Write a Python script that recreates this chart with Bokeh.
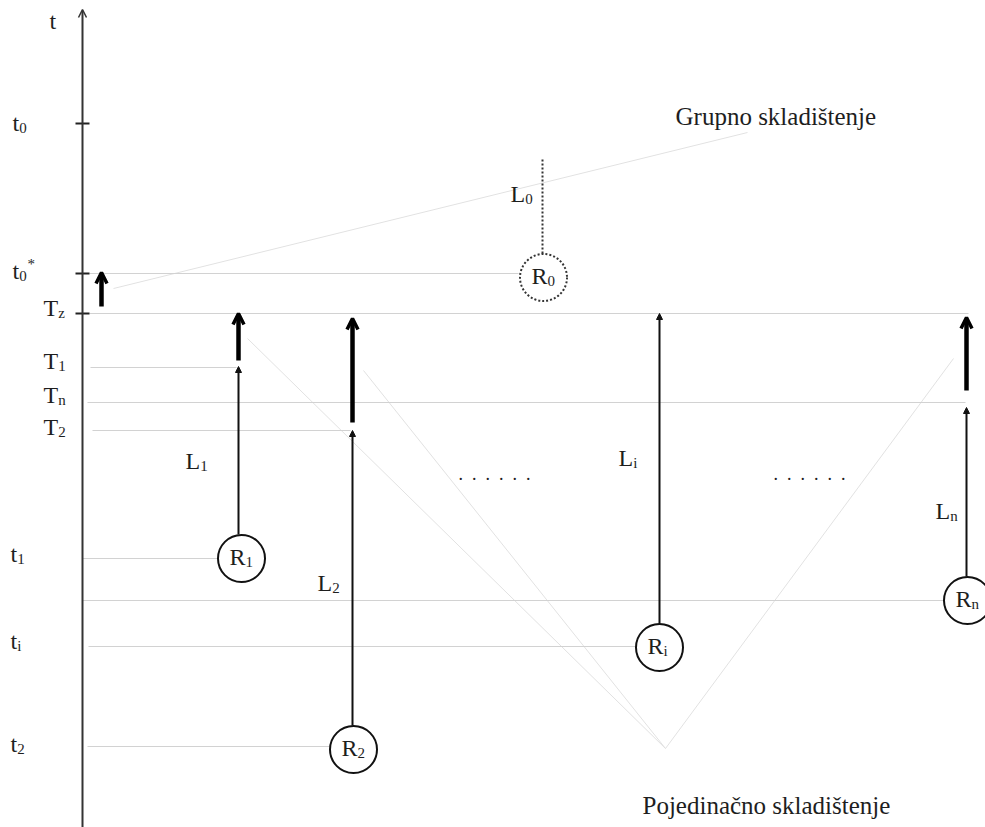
from bokeh.plotting import figure
from bokeh.models import Range1d, Arrow, OpenHead, NormalHead, ColumnDataSource
from bokeh.core.properties import value
from bokeh.embed import file_html
from bokeh.resources import INLINE

W, H = 985, 827
FONT = "Liberation Serif"
TXT = "#1e1e1e"

# ---- time levels on the t axis (screen-y units) ----
level_names = ["t0*", "Tz", "T1", "Tn", "T2", "t1", "tRn", "ti", "t2"]
level_y = [273, 313, 367, 402, 430, 558, 600, 646, 746]
level_x0 = [89, 89, 90, 87, 92, 82, 82, 88, 87]
level_x1 = [518, 968, 236, 965, 350, 217, 943, 635, 329]

tick_y = [123, 273, 313]

# ---- axis labels: base letter, subscript, superscript ----
axis_base = ["t", "t", "t", "T", "T", "T", "T", "t", "t", "t"]
axis_sub = ["", "0", "0", "z", "1", "n", "2", "1", "i", "2"]
axis_x = [49, 12, 12, 43, 43, 43, 43, 10, 10, 10]
axis_yc = [20, 122, 270, 307, 360, 394, 426, 553, 640, 743]

# ---- nodes (circles R) ----
node_sub = ["0", "1", "2", "i", "n"]
node_x = [543, 241, 353, 659, 967]
node_y = [277, 558, 749, 647, 600]
node_dotted = [True, False, False, False, False]

# ---- L labels ----
L_sub = ["0", "1", "2", "i", "n"]
L_x = [510, 185, 317, 618, 935]
L_yc = [193, 460, 582, 457, 510]

# ---- thin arrows (lead times) ----
thin_x = [238, 352, 659, 966]
thin_y0 = [534, 725, 623, 576]
thin_y1 = [366, 430, 313, 407]

# ---- thick arrows (waiting) ----
thick_x = [101, 238, 352, 966]
thick_y0 = [306, 360, 422, 390]
thick_y1 = [272, 313, 318, 317]

# ---- dotted L0 ----
L0_x, L0_y0, L0_y1 = 542, 253, 157

# ---- light diagonals ----
grp_x = [113, 747]
grp_y = [288, 132]
ind_x0 = [247, 363, 665]
ind_y0 = [338, 370, 748]
ind_x1 = [665, 665, 953]
ind_y1 = [748, 748, 358]

titles = ["Grupno skladištenje", "Pojedinačno skladištenje"]
title_x = [675, 642]
title_y = [116, 805]

dots_x = [458, 773]
dots_y = [473, 473]
NB = "\u00a0"
dots_text = (NB * 2).join(["."] * 6)

p = figure(width=W, height=H, x_range=Range1d(0, W), y_range=Range1d(H, 0),
           output_backend="svg", toolbar_location=None, min_border=0)
p.axis.visible = False
p.grid.visible = False
p.outline_line_color = None
p.background_fill_color = "white"
p.border_fill_color = "white"

# diagonals
p.line(grp_x, grp_y, line_color="#e2e2e2", line_width=1)
p.segment(ind_x0, ind_y0, ind_x1, ind_y1, line_color="#e2e2e2", line_width=1)

# horizontal guides
p.segment(level_x0, level_y, level_x1, level_y, line_color="#d2d2d2", line_width=1.2)

# main axis
p.add_layout(Arrow(x_start=82, y_start=827, x_end=82, y_end=9, line_color="#333333",
                   line_width=2, end=OpenHead(size=8, line_width=1.5, line_color="#333333")))
p.segment([75] * len(tick_y), tick_y, [89] * len(tick_y), tick_y, line_color="#222222", line_width=2)

# dotted L0
p.segment([L0_x], [L0_y0], [L0_x], [L0_y1], line_color="#333333", line_width=2, line_dash="2 2")

# thin arrows
thin_src = ColumnDataSource(dict(x0=thin_x, y0=thin_y0, x1=thin_x, y1=thin_y1))
p.add_layout(Arrow(x_start="x0", y_start="y0", x_end="x1", y_end="y1", source=thin_src,
                   line_color="#111111", line_width=2,
                   end=NormalHead(size=6, fill_color="#111111", line_color="#111111")))

# thick arrows
thick_src = ColumnDataSource(dict(x0=thick_x, y0=thick_y0, x1=thick_x, y1=thick_y1))
p.add_layout(Arrow(x_start="x0", y_start="y0", x_end="x1", y_end="y1", source=thick_src,
                   line_color="black", line_width=4.5,
                   end=OpenHead(size=11, line_width=3.5, line_color="black")))

# circles
solid = [i for i, d in enumerate(node_dotted) if not d]
dotted = [i for i, d in enumerate(node_dotted) if d]
p.circle([node_x[i] for i in solid], [node_y[i] for i in solid], radius=23.5,
         fill_color="white", line_color="#111111", line_width=2)
p.circle([node_x[i] for i in dotted], [node_y[i] for i in dotted], radius=23.5,
         fill_color="white", line_color="#333333", line_width=2, line_dash="2 2")

FS = 24
SFS = 15
adv = {"t": 6.7, "T": 14.7, "L": 14.7, "R": 16.0}

def draw_label(bases, subs, xs, ycs):
    p.text(xs, ycs, text=bases, text_font=value(FONT), text_font_size=f"{FS}px",
           text_color=TXT, text_align="left", text_baseline="middle")
    sx = [x + adv[b] for b, x in zip(bases, xs)]
    p.text(sx, [y + 5 for y in ycs], text=subs, text_font=value(FONT),
           text_font_size=f"{SFS}px", text_color=TXT, text_align="left", text_baseline="middle")

draw_label(axis_base, axis_sub, axis_x, axis_yc)
# superscript star on t0*
p.text([27], [263], text=["*"], text_font=value(FONT), text_font_size=f"{SFS}px",
       text_color=TXT, text_align="left", text_baseline="middle")

draw_label(["L"] * len(L_sub), L_sub, L_x, L_yc)
draw_label(["R"] * len(node_sub), node_sub, [x - 12 for x in node_x], [y - 2 for y in node_y])

# dots
p.text(dots_x, dots_y, text=[dots_text] * 2, text_font=value(FONT),
       text_font_size="18px", text_color=TXT, text_align="left", text_baseline="alphabetic")

# titles
p.text(title_x, title_y, text=titles, text_font=value(FONT), text_font_size="25px",
       text_color=TXT, text_align="left", text_baseline="alphabetic")

open("out.html", "w").write(file_html(p, INLINE))
